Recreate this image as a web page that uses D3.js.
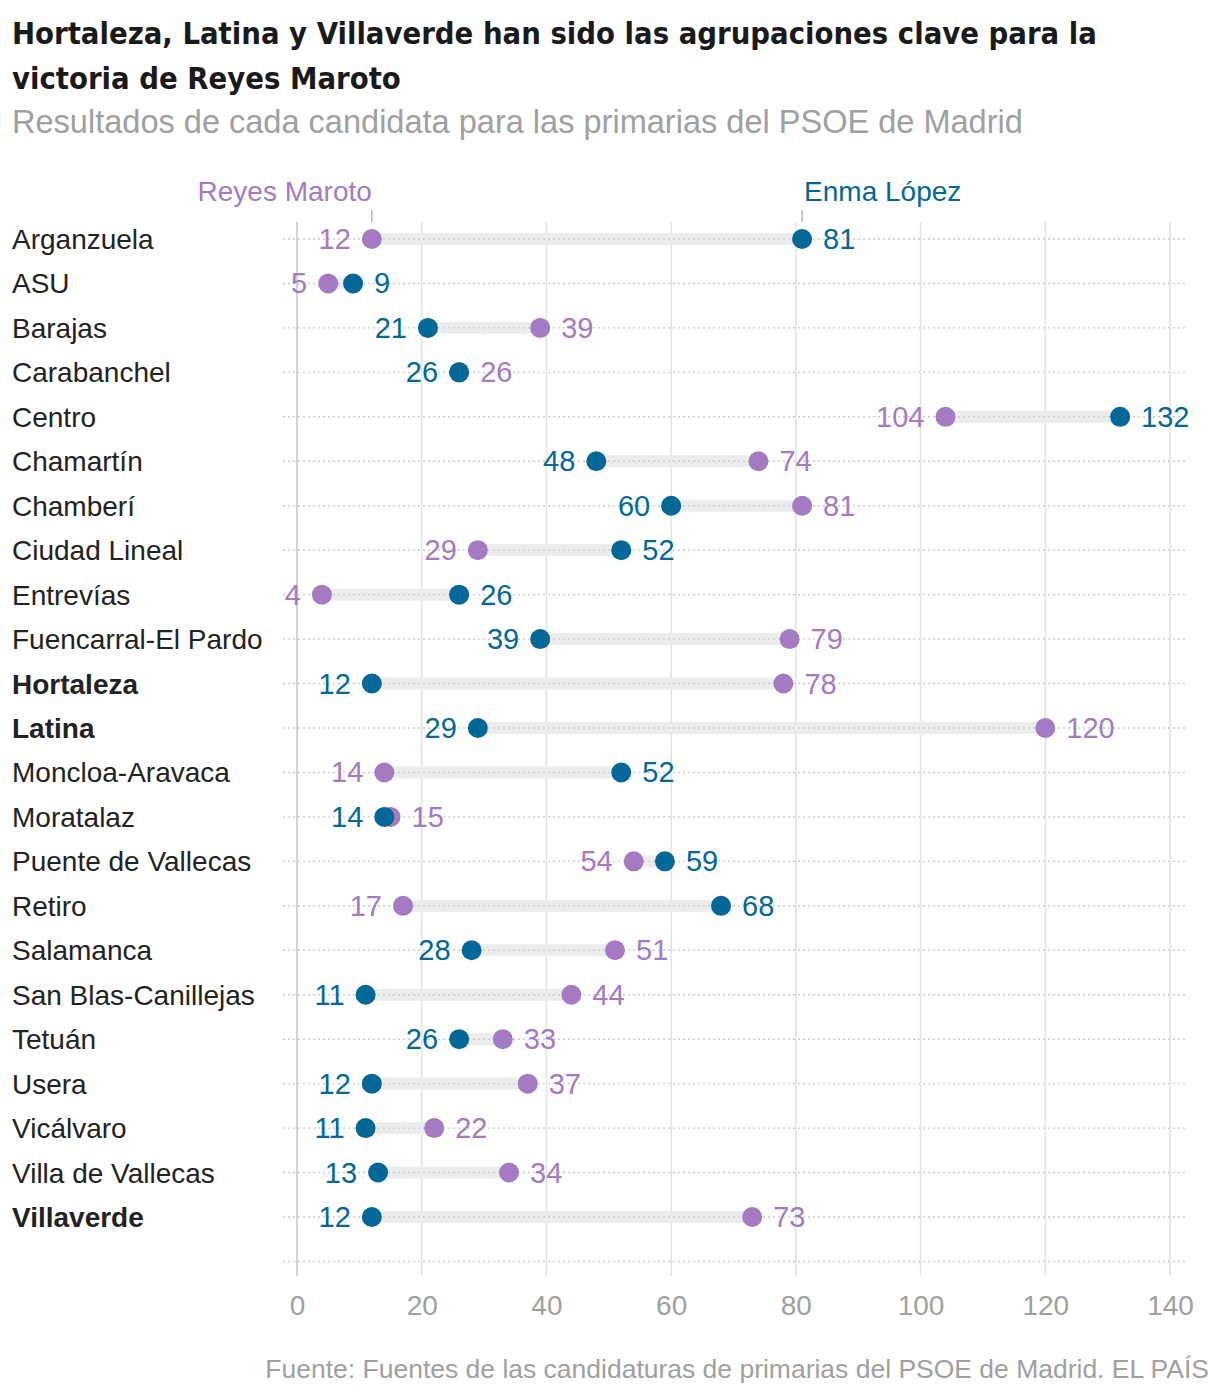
<!DOCTYPE html>
<html>
<head>
<meta charset="utf-8">
<script src="https://cdn.jsdelivr.net/npm/d3@7"></script>
<style>
  html, body { margin: 0; padding: 0; background: #fff; }
  svg { display: block; }
</style>
</head>
<body>
<svg id="chart" width="1220" height="1400"></svg>
<script>
const districts = ["Arganzuela","ASU","Barajas","Carabanchel","Centro","Chamartín","Chamberí","Ciudad Lineal","Entrevías","Fuencarral-El Pardo","Hortaleza","Latina","Moncloa-Aravaca","Moratalaz","Puente de Vallecas","Retiro","Salamanca","San Blas-Canillejas","Tetuán","Usera","Vicálvaro","Villa de Vallecas","Villaverde"];
const reyesMaroto = [12,5,39,26,104,74,81,29,4,79,78,120,14,15,54,17,51,44,33,37,22,34,73];
const enmaLopez   = [81,9,21,26,132,48,60,52,26,39,12,29,52,14,59,68,28,11,26,12,11,13,12];
const highlighted = ["Hortaleza","Latina","Villaverde"];
const xTicks = [0,20,40,60,80,100,120,140];
const seriesNames = ["Reyes Maroto","Enma López"];

const titleLines = ["Hortaleza, Latina y Villaverde han sido las agrupaciones clave para la","victoria de Reyes Maroto"];
const subtitle = "Resultados de cada candidata para las primarias del PSOE de Madrid";
const source = "Fuente: Fuentes de las candidaturas de primarias del PSOE de Madrid. EL PAÍS";

const PURPLE = "#a47ac3", BLUE = "#036797";
const BODY = "'Liberation Sans', Arial, sans-serif";
const TITLEF = "'Liberation Sans Narrow', 'DejaVu Sans Condensed', 'Liberation Sans', sans-serif";

const svg = d3.select("#chart");
const x = d3.scaleLinear().domain([0,140]).range([297,1170]);
const y = d3.scalePoint().domain(districts).range([239,1217]);
const step = y.step();

function fit(sel, target) {
  const n = sel.node();
  const w = n.getComputedTextLength();
  const fs = parseFloat(sel.attr("font-size"));
  sel.attr("font-size", (fs * target / w).toFixed(2));
}

// Title
const t1 = svg.append("text").attr("x",12).attr("y",44).attr("font-family",TITLEF)
  .attr("font-weight","bold").attr("font-size",30).attr("fill","#1a1a1a").text(titleLines[0]);
fit(t1, 1085);
const tfs = t1.attr("font-size");
svg.append("text").attr("x",12).attr("y",89).attr("font-family",TITLEF)
  .attr("font-weight","bold").attr("font-size",tfs).attr("fill","#1a1a1a").text(titleLines[1]);

const st = svg.append("text").attr("x",12).attr("y",133).attr("font-family",BODY)
  .attr("font-size",29).attr("fill","#a0a0a0").text(subtitle);
fit(st, 1011);

// vertical gridlines
svg.append("g").selectAll("line").data(xTicks).join("line")
  .attr("x1",d=>x(d)).attr("x2",d=>x(d)).attr("y1",222).attr("y2",1276)
  .attr("stroke",d=>d===0?"#c8c8c8":"#e4e4e4").attr("stroke-width",1.6);

// range bars
svg.append("g").selectAll("rect").data(districts).join("rect")
  .attr("x",(d,i)=>x(Math.min(reyesMaroto[i],enmaLopez[i])))
  .attr("width",(d,i)=>Math.abs(x(reyesMaroto[i])-x(enmaLopez[i])))
  .attr("y",d=>y(d)-6).attr("height",12).attr("fill","#ececec");

// dotted row lines
const rowYs = districts.map(d=>y(d)).concat([y(districts[districts.length-1])+step]);
svg.append("g").selectAll("line").data(rowYs).join("line")
  .attr("x1",283).attr("x2",1186).attr("y1",d=>d).attr("y2",d=>d)
  .attr("stroke","#cccccc").attr("stroke-width",1.4).attr("stroke-dasharray","2,3");

// row labels
svg.append("g").selectAll("text").data(districts).join("text")
  .attr("x",12).attr("y",d=>y(d)+10)
  .attr("font-family",BODY).attr("font-size",28)
  .attr("font-weight",d=>highlighted.includes(d)?"bold":"normal")
  .attr("fill","#222").text(d=>d);

// dots
const dotsG = svg.append("g");
dotsG.selectAll("circle.r").data(districts).join("circle").attr("class","r")
  .attr("cx",(d,i)=>x(reyesMaroto[i])).attr("cy",d=>y(d)).attr("r",10).attr("fill",PURPLE);
dotsG.selectAll("circle.e").data(districts).join("circle").attr("class","e")
  .attr("cx",(d,i)=>x(enmaLopez[i])).attr("cy",d=>y(d)).attr("r",10).attr("fill",BLUE);

// value labels
const lab = [];
districts.forEach((d,i)=>{
  const r = reyesMaroto[i], e = enmaLopez[i];
  const reyesLeft = r < e;
  lab.push({d, v:r, c:PURPLE, left:reyesLeft});
  lab.push({d, v:e, c:BLUE, left:!reyesLeft});
});
svg.append("g").selectAll("text").data(lab).join("text")
  .attr("x",o=>o.left? x(o.v)-21 : x(o.v)+21)
  .attr("y",o=>y(o.d)+10)
  .attr("text-anchor",o=>o.left?"end":"start")
  .attr("font-family",BODY).attr("font-size",29).attr("fill",o=>o.c).text(o=>o.v);

// legend annotations
const legend = [{n:seriesNames[0], v:reyesMaroto[0], c:PURPLE, anchor:"end", dx:0},
                {n:seriesNames[1], v:enmaLopez[0], c:BLUE, anchor:"start", dx:2}];
svg.append("g").selectAll("line").data(legend).join("line")
  .attr("x1",o=>x(o.v)).attr("x2",o=>x(o.v)).attr("y1",210).attr("y2",222)
  .attr("stroke","#999").attr("stroke-width",1);
svg.append("g").selectAll("text").data(legend).join("text")
  .attr("x",o=>x(o.v)+o.dx).attr("y",201).attr("text-anchor",o=>o.anchor)
  .attr("font-family",BODY).attr("font-size",28).attr("fill",o=>o.c).text(o=>o.n);

// x axis
const ax = svg.append("g").attr("transform","translate(0,1285)")
  .call(d3.axisBottom(x).tickValues(xTicks).tickSize(0).tickPadding(0));
ax.select(".domain").remove();
ax.selectAll("text").attr("font-family",BODY).attr("font-size",28).attr("fill","#a0a0a0")
  .attr("dy","1.07em");

// source
const so = svg.append("text").attr("x",1209).attr("y",1378).attr("text-anchor","end")
  .attr("font-family",BODY).attr("font-size",24).attr("fill","#a0a0a0").text(source);
fit(so, 944);
</script>
</body>
</html>
